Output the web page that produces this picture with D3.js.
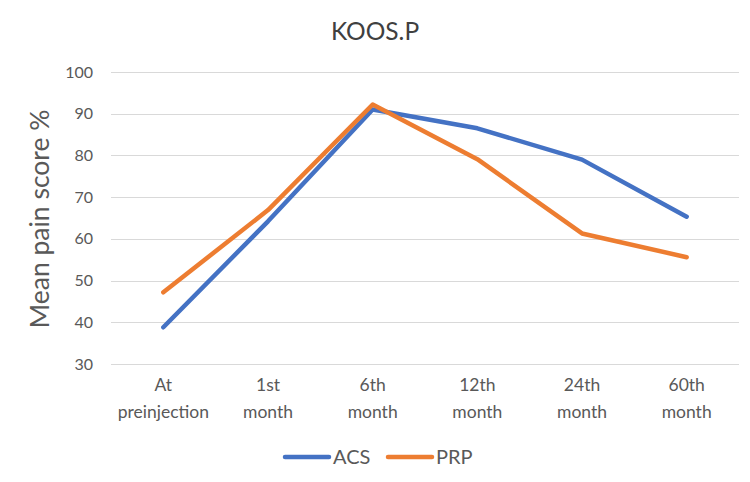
<!DOCTYPE html>
<html>
<head>
<meta charset="utf-8">
<script src="https://cdn.jsdelivr.net/npm/d3@7"></script>
<style>
  html, body { margin: 0; padding: 0; background: #fff; }
  svg { display: block; font-family: Lato, "Open Sans", sans-serif; }
</style>
</head>
<body>
<svg id="chart" width="750" height="482"></svg>
<script>
const categories = [["At", "preinjection"], ["1st", "month"], ["6th", "month"], ["12th", "month"], ["24th", "month"], ["60th", "month"]];
const acsValues = [38.8, 64.2, 91.0, 86.5, 79.0, 65.3];
const prpValues = [47.2, 66.9, 92.2, 79.1, 61.3, 55.6];
const yTicks = [30, 40, 50, 60, 70, 80, 90, 100];
const seriesNames = ["ACS", "PRP"];
const seriesColors = ["#4472C4", "#ED7D31"];
const titleText = "KOOS.P";
const yTitle = "Mean pain score %";

const svg = d3.select("#chart");
const plotLeft = 111, plotRight = 739, plotTop = 72, plotBottom = 364;

const x = d3.scaleBand().domain(d3.range(categories.length)).range([plotLeft, plotRight]);
const y = d3.scaleLinear().domain([30, 100]).range([plotBottom, plotTop]);

// gridlines
svg.append("g").selectAll("line").data(yTicks).join("line")
  .attr("x1", plotLeft).attr("x2", plotRight)
  .attr("y1", d => Math.round(y(d)) + 0.5).attr("y2", d => Math.round(y(d)) + 0.5)
  .attr("stroke", "#d9d9d9").attr("stroke-width", 1);

// y axis labels
const yAxis = d3.axisLeft(y).tickValues(yTicks).tickSize(0).tickPadding(0);
const gy = svg.append("g").attr("transform", `translate(${plotLeft - 18},0)`).call(yAxis);
gy.select(".domain").remove();
gy.selectAll("text").attr("font-size", 16).attr("fill", "#595959")
  .attr("font-family", "Lato, 'Open Sans', sans-serif");

// x axis labels
const gx = svg.append("g");
categories.forEach((c, i) => {
  const cx = x(i) + x.bandwidth() / 2;
  const t = gx.append("text").attr("text-anchor", "middle")
    .attr("font-size", 17.5).attr("fill", "#595959");
  t.append("tspan").attr("x", cx).attr("y", 391).text(c[0]);
  t.append("tspan").attr("x", cx).attr("y", 418).text(c[1]);
});

// lines
const line = d3.line().x((d, i) => x(i) + x.bandwidth() / 2).y(d => y(d));
[acsValues, prpValues].forEach((vals, k) => {
  svg.append("path").datum(vals).attr("d", line)
    .attr("fill", "none").attr("stroke", seriesColors[k])
    .attr("stroke-width", 4.5).attr("stroke-linecap", "round").attr("stroke-linejoin", "round");
});

// title
svg.append("text").attr("x", 375).attr("y", 40).attr("text-anchor", "middle")
  .attr("font-size", 24.5).attr("fill", "#404040").text(titleText);

// y title
svg.append("text").attr("transform", `translate(49,219) rotate(-90)`)
  .attr("text-anchor", "middle").attr("font-size", 26.5).attr("fill", "#595959").text(yTitle);

// legend
const legendItems = [{x: 285, tx: 333}, {x: 388, tx: 436}];
seriesNames.forEach((n, k) => {
  svg.append("line").attr("x1", legendItems[k].x).attr("x2", legendItems[k].x + 44)
    .attr("y1", 457).attr("y2", 457).attr("stroke", seriesColors[k])
    .attr("stroke-width", 4.5).attr("stroke-linecap", "round");
  svg.append("text").attr("x", legendItems[k].tx).attr("y", 464)
    .attr("font-size", 20).attr("fill", "#595959").text(n);
});
</script>
</body>
</html>
